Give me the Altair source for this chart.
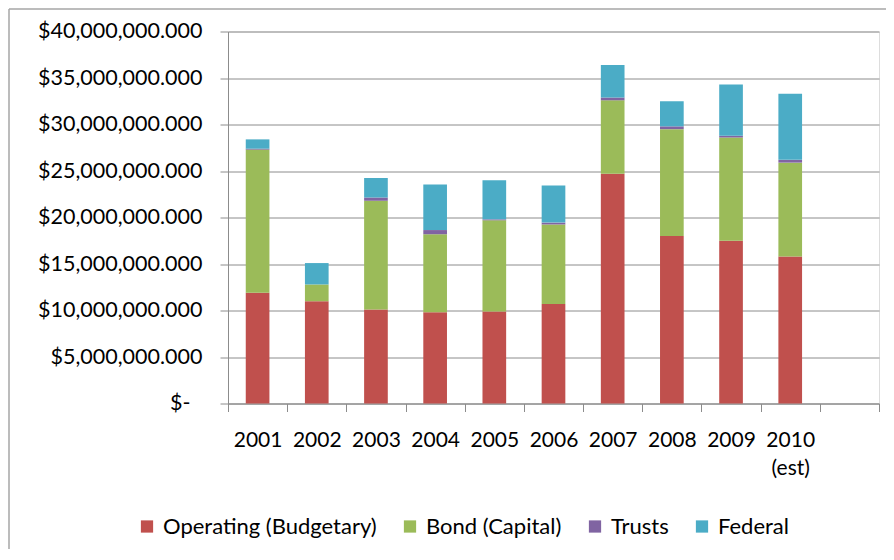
import altair as alt
import pandas as pd

years = ["2001", "2002", "2003", "2004", "2005", "2006", "2007", "2008", "2009", "2010 (est)"]
slots = years + [" "]
series = ["Operating (Budgetary)", "Bond (Capital)", "Trusts", "Federal"]
colors = ["#C0504D", "#9BBB59", "#8064A2", "#4BACC6"]

# values in millions of dollars
operating = [11.9, 11.0, 10.1, 9.8, 9.9, 10.7, 24.7, 18.0, 17.5, 15.8]
bond = [15.4, 1.8, 11.7, 8.4, 9.8, 8.55, 7.9, 11.5, 11.1, 10.1]
trusts = [0.1, 0.0, 0.35, 0.45, 0.1, 0.2, 0.3, 0.3, 0.2, 0.3]
federal = [1.0, 2.3, 2.1, 4.9, 4.2, 4.0, 3.5, 2.7, 5.5, 7.1]

y_ticks = [0, 5e6, 10e6, 15e6, 20e6, 25e6, 30e6, 35e6, 40e6]

rows = []
for si, (name, vals) in enumerate(zip(series, [operating, bond, trusts, federal])):
    for yr, v in zip(years, vals):
        rows.append({"year": yr, "series": name, "idx": si, "value": v * 1e6})
df = pd.DataFrame(rows)

GRAY = "#8C8C8C"

bars = alt.Chart(df).mark_bar(width=alt.RelativeBandSize(0.4)).encode(
    x=alt.X(
        "year:N",
        sort=None,
        title=None,
        scale=alt.Scale(domain=slots, paddingInner=0, paddingOuter=0),
        axis=alt.Axis(
            tickBand="extent",
            labelAngle=0,
            labelExpr="split(datum.label, ' ')",
            labelLineHeight=28,
            labelFont="Lato",
            labelFontSize=21,
            labelColor="#000000",
            labelPadding=18,
            tickSize=8,
            tickColor=GRAY,
            domainColor=GRAY,
            grid=False,
        ),
    ),
    y=alt.Y(
        "value:Q",
        stack="zero",
        title=None,
        scale=alt.Scale(domain=[0, 40e6], nice=False),
        axis=alt.Axis(
            values=y_ticks,
            labelExpr="datum.value == 0 ? '$-' : '$' + format(datum.value, ',') + '.000'",
            labelFont="Lato",
            labelFontSize=21.5,
            labelColor="#000000",
            labelPadding=alt.ExprRef(expr="datum.value === 0 ? 30 : 18"),
            tickSize=8,
            tickColor=GRAY,
            domainColor=GRAY,
            gridColor=GRAY,
            gridWidth=1,
        ),
    ),
    color=alt.Color(
        "series:N",
        scale=alt.Scale(domain=series, range=colors),
        legend=alt.Legend(
            title=None,
            orient="none",
            direction="horizontal",
            legendX=-92,
            legendY=484,
            symbolType="square",
            symbolSize=150,
            symbolStrokeWidth=0,
            labelFont="Lato",
            labelFontSize=22,
            labelColor="#000000",
            labelLimit=0,
            labelOffset=5,
            columnPadding=22,
            padding=0,
        ),
    ),
    order=alt.Order("idx:Q", sort="ascending"),
)

one = pd.DataFrame({"a": [0]})
border_top = alt.Chart(one).mark_rule(color="#A6A6A6", strokeWidth=1.5).encode(
    x=alt.value(-219), x2=alt.value(700), y=alt.value(-22.5)
)
border_left = alt.Chart(one).mark_rule(color="#A6A6A6", strokeWidth=1.5).encode(
    x=alt.value(-219), y=alt.value(-22.5), y2=alt.value(600)
)

chart = alt.layer(border_top, border_left, bars).properties(
    width=651,
    height=372,
    autosize=alt.AutoSizeParams(type="none"),
    padding={"left": 220, "top": 23.5, "right": 7, "bottom": 145},
).configure_view(stroke=None).configure(background="#FFFFFF")

chart.save("out.html", embed_options={"renderer": "svg", "actions": False})
